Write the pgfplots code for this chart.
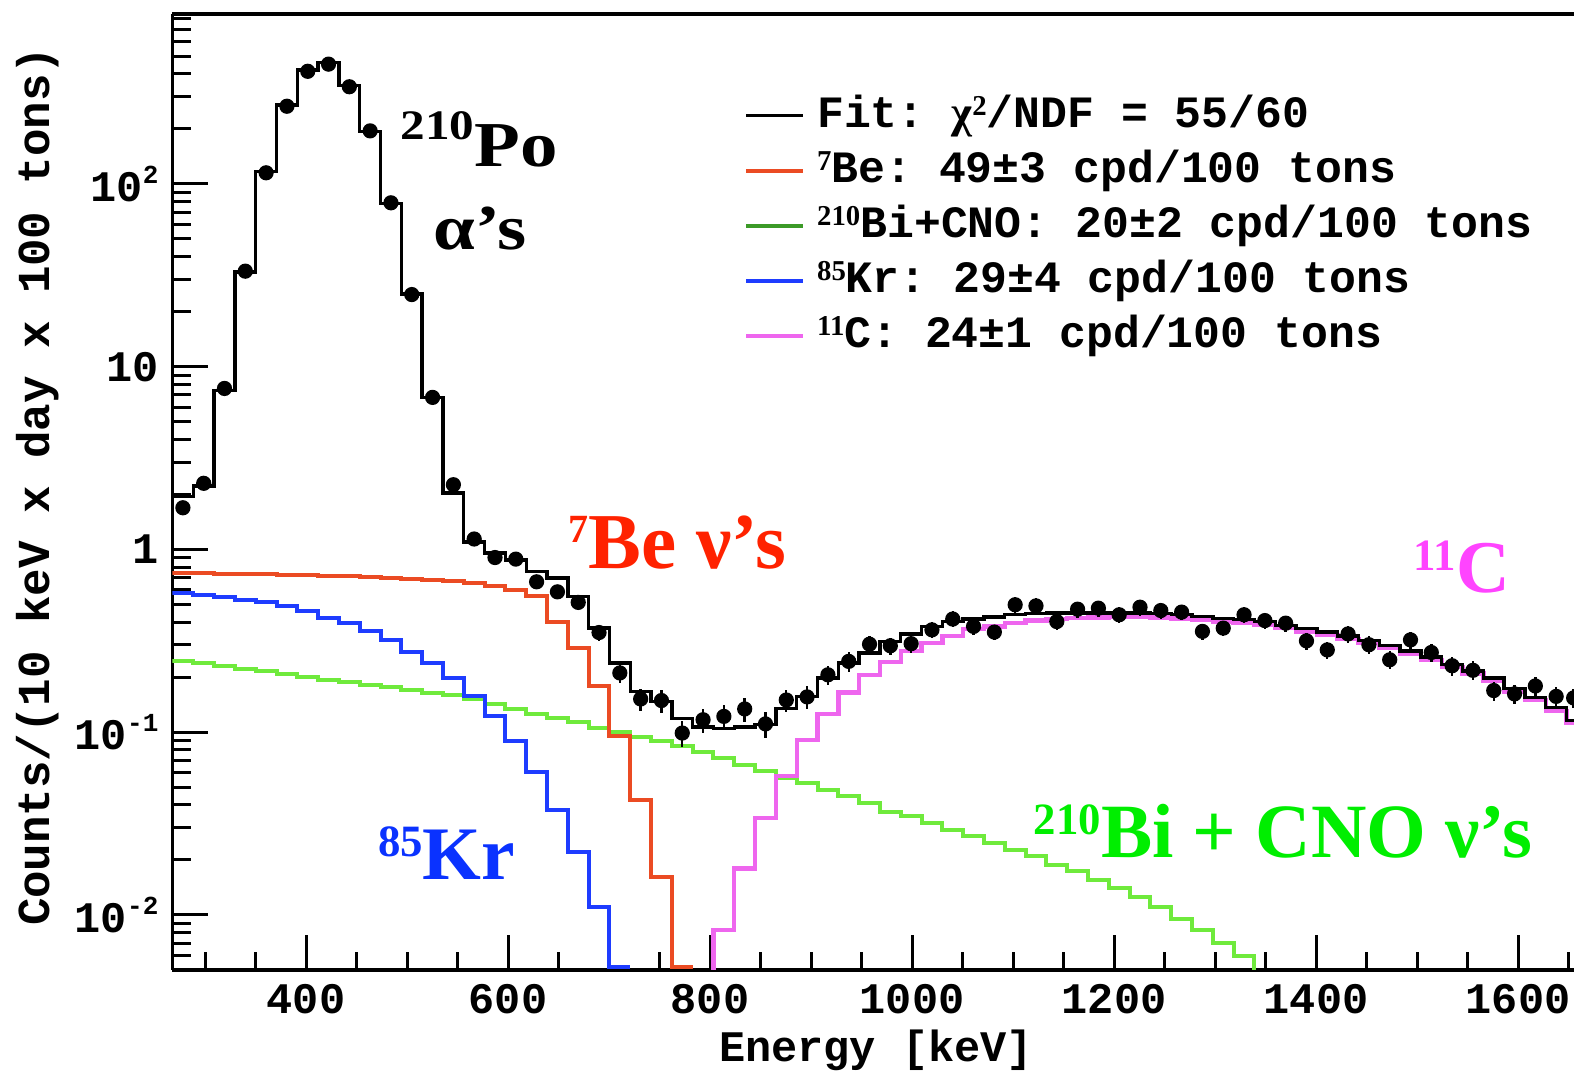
\documentclass[border=0pt]{standalone}
\usepackage{fontspec}
\setmonofont{Liberation Mono}
\newfontfamily\tms{Liberation Serif}
\usepackage{graphicx}
\usepackage{pgfplots}
\usepackage{pgfplotstable}
\pgfplotsset{compat=1.18}

\definecolor{beline}{HTML}{EB4B23}
\definecolor{krline}{HTML}{1E3CFF}
\definecolor{biline}{HTML}{6FEA3C}
\definecolor{bileg}{HTML}{3C9A28}
\definecolor{cline}{HTML}{EE66EE}
\definecolor{betxt}{HTML}{FF2200}
\definecolor{krtxt}{HTML}{0A32FF}
\definecolor{bitxt}{HTML}{00EE00}
\definecolor{ctxt}{HTML}{FF44FF}

\newcommand\lab{\fontsize{10.9}{12}\selectfont\ttfamily\bfseries}
\newcommand\ylab{\fontsize{11.45}{12}\selectfont\ttfamily\bfseries}
\newcommand\leg{\fontsize{11.2}{12}\selectfont\ttfamily\bfseries}
\newcommand\tsup[1]{\raisebox{0.42em}{\fontsize{6.5}{6.5}\selectfont #1}}
\newcommand\lsup[1]{\raisebox{3pt}{\tms\bfseries\fontsize{7.2}{7.2}\selectfont #1}}
% big Times labels: superscript then text
\newcommand\biglab[3][18.6]{{\tms\bfseries\fontsize{#1}{#1}\selectfont\raisebox{0.3em}{\fontsize{11.2}{11.2}\selectfont #2}#3}}

% fit and components: left bin edge, bin content
\pgfplotstableread{
e v
267.8 1.95
288.4 2.22
309.0 7.4
329.6 33
350.2 117
370.8 270
391.4 420
412.0 460
432.6 345
453.2 194
473.8 78
494.4 25
515.0 6.8
535.6 2.04
556.2 1.10
576.8 0.954
597.4 0.877
618.0 0.757
638.6 0.697
659.2 0.552
679.8 0.371
700.4 0.239
721.0 0.167
741.6 0.147
762.2 0.119
782.8 0.107
803.4 0.105
824.0 0.107
844.6 0.110
865.2 0.135
885.8 0.157
906.4 0.198
927.0 0.239
947.6 0.271
968.2 0.313
988.8 0.345
1009.4 0.379
1030.0 0.403
1050.6 0.416
1071.2 0.426
1091.8 0.439
1112.4 0.445
1133.0 0.448
1153.6 0.449
1174.2 0.450
1194.8 0.450
1215.4 0.449
1236.0 0.447
1256.6 0.442
1277.2 0.430
1297.8 0.420
1318.4 0.414
1339.0 0.402
1359.6 0.385
1380.2 0.369
1400.8 0.353
1421.4 0.336
1442.0 0.318
1462.6 0.298
1483.2 0.278
1503.8 0.258
1524.4 0.235
1545.0 0.216
1565.6 0.198
1586.2 0.173
1606.8 0.155
1627.4 0.136
1648.0 0.116
1668.6 0.116
}\fitT

\pgfplotstableread{
e v
267.8 0.743
288.4 0.740
309.0 0.737
329.6 0.734
350.2 0.730
370.8 0.726
391.4 0.722
412.0 0.718
432.6 0.713
453.2 0.707
473.8 0.700
494.4 0.692
515.0 0.682
535.6 0.670
556.2 0.652
576.8 0.627
597.4 0.598
618.0 0.556
638.6 0.400
659.2 0.290
679.8 0.178
700.4 0.095
721.0 0.0428
741.6 0.0162
762.2 0.0052
782.8 0.0052
}\beT

\pgfplotstableread{
e v
267.8 0.577
288.4 0.565
309.0 0.548
329.6 0.530
350.2 0.513
370.8 0.488
391.4 0.458
412.0 0.424
432.6 0.395
453.2 0.356
473.8 0.320
494.4 0.276
515.0 0.239
535.6 0.198
556.2 0.157
576.8 0.122
597.4 0.089
618.0 0.0604
638.6 0.0373
659.2 0.0222
679.8 0.0110
700.4 0.0052
721.0 0.0052
}\krT

\pgfplotstableread{
e v
267.8 0.246
288.4 0.238
309.0 0.230
329.6 0.222
350.2 0.215
370.8 0.208
391.4 0.201
412.0 0.194
432.6 0.188
453.2 0.182
473.8 0.176
494.4 0.170
515.0 0.164
535.6 0.159
556.2 0.151
576.8 0.143
597.4 0.134
618.0 0.126
638.6 0.119
659.2 0.113
679.8 0.106
700.4 0.100
721.0 0.094
741.6 0.089
762.2 0.084
782.8 0.078
803.4 0.0721
824.0 0.0663
844.6 0.0610
865.2 0.0561
885.8 0.0527
906.4 0.0484
927.0 0.0449
947.6 0.0409
968.2 0.0368
988.8 0.0346
1009.4 0.0318
1030.0 0.0292
1050.6 0.0269
1071.2 0.0247
1091.8 0.0227
1112.4 0.0209
1133.0 0.0188
1153.6 0.0173
1174.2 0.0156
1194.8 0.0140
1215.4 0.0126
1236.0 0.0111
1256.6 0.0095
1277.2 0.0083
1297.8 0.0070
1318.4 0.0060
1339.0 0.001
}\biT

\pgfplotstableread{
e v
803.4 0.001
803.4 0.0083
824.0 0.0180
844.6 0.0338
865.2 0.0575
885.8 0.0905
906.4 0.126
927.0 0.165
947.6 0.205
968.2 0.242
988.8 0.278
1009.4 0.307
1030.0 0.337
1050.6 0.366
1071.2 0.379
1091.8 0.395
1112.4 0.408
1133.0 0.416
1153.6 0.420
1174.2 0.424
1194.8 0.426
1215.4 0.426
1236.0 0.424
1256.6 0.419
1277.2 0.412
1297.8 0.404
1318.4 0.398
1339.0 0.387
1359.6 0.371
1380.2 0.356
1400.8 0.341
1421.4 0.324
1442.0 0.307
1462.6 0.288
1483.2 0.268
1503.8 0.249
1524.4 0.227
1545.0 0.209
1565.6 0.192
1586.2 0.167
1606.8 0.150
1627.4 0.131
1648.0 0.112
1668.6 0.112
}\cT

% data: bin centre, counts, relative error
\pgfplotstableread{
x y ey
278.1 1.69 0.03
298.7 2.30 0.03
319.3 7.60 0.01
339.9 33.3 0.01
360.5 115 0.01
381.1 266 0.01
401.7 413 0.01
422.3 452 0.01
442.9 340 0.01
463.5 195 0.01
484.1 78.8 0.01
504.7 24.8 0.01
525.3 6.79 0.01
545.9 2.26 0.02
566.5 1.14 0.05
587.1 0.903 0.05
607.7 0.885 0.06
628.3 0.665 0.07
648.9 0.586 0.07
669.5 0.513 0.08
690.1 0.351 0.10
710.7 0.211 0.12
731.3 0.152 0.14
751.9 0.149 0.14
772.5 0.0989 0.16
793.1 0.117 0.15
813.7 0.122 0.15
834.3 0.134 0.15
854.9 0.111 0.16
875.5 0.150 0.14
896.1 0.156 0.14
916.7 0.206 0.12
937.3 0.244 0.12
957.9 0.303 0.11
978.5 0.297 0.11
999.1 0.305 0.11
1019.7 0.363 0.10
1040.3 0.416 0.10
1060.9 0.379 0.10
1081.5 0.353 0.10
1102.1 0.498 0.10
1122.7 0.491 0.10
1143.3 0.403 0.10
1163.9 0.471 0.10
1184.5 0.477 0.10
1205.1 0.439 0.10
1225.7 0.483 0.10
1246.3 0.463 0.10
1266.9 0.454 0.10
1287.5 0.356 0.10
1308.1 0.371 0.10
1328.7 0.439 0.10
1349.3 0.408 0.10
1369.9 0.395 0.10
1390.5 0.316 0.11
1411.1 0.282 0.11
1431.7 0.345 0.11
1452.3 0.301 0.11
1472.9 0.249 0.11
1493.5 0.320 0.11
1514.1 0.273 0.11
1534.7 0.231 0.12
1555.3 0.218 0.12
1575.9 0.169 0.12
1596.5 0.162 0.12
1617.1 0.179 0.12
1637.7 0.157 0.12
1655.0 0.154 0.12
}\dataT

\begin{document}
\begin{tikzpicture}
\useasboundingbox (-43.125pt,-26.5pt) rectangle (350.4pt,242.5pt);
\begin{axis}[
  at={(0,0)}, anchor=south west,
  scale only axis, width=350.4pt, height=239pt,
  ymode=log,
  xmin=267.8, xmax=1655.4, ymin=0.005, ymax=850,
  axis x line=box, axis y line*=left,
  axis line style={line width=0.9pt},
  tick align=inside, xtick pos=left, ytick pos=left,
  major tick length=8.8pt, minor tick length=4.6pt,
  every tick/.style={black, line width=0.75pt},
  xtick={400,600,800,1000,1200,1400,1600},
  xticklabels={400,600,800,1000,1200,1400,1600},
  minor xtick={300,350,450,500,550,650,700,750,850,900,950,1050,1100,1150,1250,1300,1350,1450,1500,1550,1650},
  ytick={0.01,0.1,1,10,100},
  yticklabels={10\tsup{-2},10\tsup{-1},1,10,10\tsup{2}},
  minor ytick={0.006,0.007,0.008,0.009,0.02,0.03,0.04,0.05,0.06,0.07,0.08,0.09,0.2,0.3,0.4,0.5,0.6,0.7,0.8,0.9,2,3,4,5,6,7,8,9,20,30,40,50,60,70,80,90,200,300,400,500,600,700,800},
  ticklabel style={font=\lab},
  xlabel={Energy [keV]},
  ylabel={Counts/(10 keV x day x 100 tons)},
  xlabel style={font=\lab, at={(axis description cs:0.502,-0.0962)}, anchor=base},
  ylabel style={font=\ylab, at={(axis description cs:-0.0874,0.506)}, anchor=base},
  legend style={at={(axis description cs:0.3985,0.9236)}, anchor=north west,
    draw=none, fill=none, font=\leg, row sep=3.75pt,
    nodes={inner sep=0pt, text height=8pt, text depth=2pt, anchor=base west},
    /tikz/every odd column/.append style={column sep=3pt}},
  legend cell align=left,
  legend image code/.code={\draw[#1] (0pt,3pt) -- (14.25pt,3pt);},
]
\addlegendimage{black, line width=0.8pt}
\addlegendentry{Fit: {\tms χ}\lsup{2}/NDF = 55/60}
\addlegendimage{beline, line width=1.1pt}
\addlegendentry{\lsup{7}Be: 49±3 cpd/100 tons}
\addlegendimage{bileg, line width=1.1pt}
\addlegendentry{\lsup{210}Bi+CNO: 20±2 cpd/100 tons}
\addlegendimage{krline, line width=1.1pt}
\addlegendentry{\lsup{85}Kr: 29±4 cpd/100 tons}
\addlegendimage{cline, line width=1.1pt}
\addlegendentry{\lsup{11}C: 24±1 cpd/100 tons}

\addplot[forget plot, const plot, no marks, biline, line width=1pt] table[x=e, y=v] {\biT};
\addplot[forget plot, const plot, no marks, krline, line width=1pt] table[x=e, y=v] {\krT};
\addplot[forget plot, const plot, no marks, beline, line width=1pt] table[x=e, y=v] {\beT};
\addplot[forget plot, const plot, no marks, cline, line width=1.1pt] table[x=e, y=v] {\cT};
\addplot[forget plot, const plot, no marks, black, line width=0.85pt] table[x=e, y=v] {\fitT};
\addplot[forget plot, only marks, mark=*, mark size=1.7pt, black,
  error bars/.cd, y dir=both, y explicit relative,
  error bar style={line width=0.6pt}, error mark=none]
  table[x=x, y=y, y error=ey] {\dataT};

\node[anchor=base west, inner sep=0pt] at (axis cs:493,124)
  {\scalebox{1.17}[1]{\tms\bfseries\fontsize{16}{16}\selectfont\raisebox{0.42em}{\fontsize{10.5}{10.5}\selectfont 210}Po}};
\node[anchor=base west, inner sep=0pt] at (axis cs:525.7,44)
  {\scalebox{1.17}[1]{\tms\bfseries\fontsize{16}{16}\selectfont α’s}};
\node[anchor=base west, inner sep=0pt, text=betxt] at (axis cs:659,0.79)
  {\tms\bfseries\fontsize{19.8}{19.8}\selectfont\raisebox{0.33em}{\fontsize{10}{10}\selectfont 7}Be ν’s};
\node[anchor=base west, inner sep=0pt, text=krtxt] at (axis cs:470.5,0.0156) {\biglab[18.9]{85}{Kr}};
\node[anchor=base west, inner sep=0pt, text=ctxt] at (axis cs:1496,0.579) {\biglab{11}{C}};
\node[anchor=base west, inner sep=0pt, text=bitxt] at (axis cs:1119.8,0.02056) {\biglab[19.2]{210}{Bi + CNO ν’s}};
\end{axis}
\end{tikzpicture}
\end{document}
